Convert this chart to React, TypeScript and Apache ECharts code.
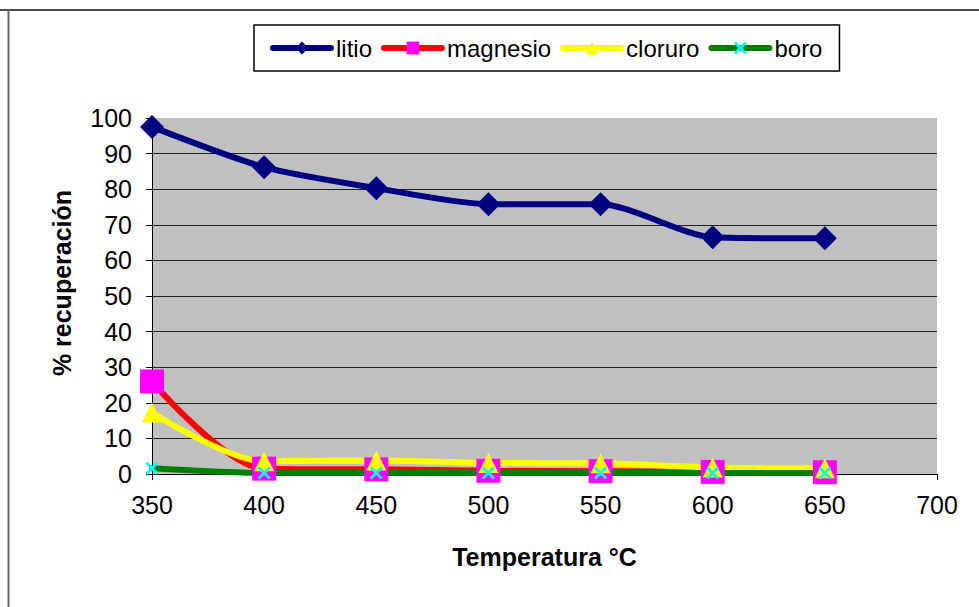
import React, { useEffect, useRef } from "react";
import * as echarts from "echarts";

const temperatures = [350, 400, 450, 500, 550, 600, 650];
const litio = [97.5, 86.2, 80.3, 75.8, 75.8, 66.5, 66.2];
const magnesio = [26, 1.5, 1.3, 0.9, 0.8, 0.6, 0.5];
const cloruro = [17.3, 3.6, 3.8, 3.1, 3.0, 1.8, 1.6];
const boro = [1.6, 0.3, 0.3, 0.3, 0.3, 0.3, 0.3];

const FONT = "'Liberation Sans', Arial, sans-serif";
const CROSS =
  "path://M0,1.5 L1.5,0 L5,3.5 L8.5,0 L10,1.5 L6.5,5 L10,8.5 L8.5,10 L5,6.5 L1.5,10 L0,8.5 L3.5,5 Z";

const pair = (vals: number[]) => temperatures.map((t, i) => [t, vals[i]]);

export default function App() {
  const ref = useRef<HTMLDivElement>(null);
  useEffect(() => {
    if (!ref.current) return;
    const chart = echarts.init(ref.current, null, { renderer: "svg" });
    const gridColors = Array.from({ length: 11 }, (_, i) =>
      i === 10 ? "rgba(0,0,0,0)" : "#222"
    );
    chart.setOption({
      animation: false,
      backgroundColor: "#fff",
      textStyle: { fontFamily: FONT },
      graphic: [
        {
          type: "line",
          shape: { x1: 0, y1: 10, x2: 979, y2: 10 },
          style: { stroke: "#111", lineWidth: 1.5 },
        },
        {
          type: "line",
          shape: { x1: 8.5, y1: 10, x2: 8.5, y2: 607 },
          style: { stroke: "#666", lineWidth: 2 },
        },
      ],
      legend: {
        left: 254,
        top: 25,
        width: 600,
        padding: [11, 17, 11, 16],
        borderColor: "#000",
        borderWidth: 1.5,
        itemWidth: 58,
        itemHeight: 16,
        itemGap: 9,
        lineStyle: { width: 6, cap: "round" },
        textStyle: { fontSize: 24, color: "#000", fontFamily: FONT },
        data: ["litio", "magnesio", "cloruro", "boro"],
      },
      grid: {
        left: 152,
        right: 42,
        top: 118,
        bottom: 133,
        show: true,
        backgroundColor: "#C0C0C0",
        borderWidth: 0,
      },
      xAxis: {
        type: "value",
        min: 350,
        max: 700,
        interval: 50,
        name: "Temperatura °C",
        nameLocation: "middle",
        nameGap: 70,
        nameTextStyle: { fontSize: 25, fontWeight: "bold", color: "#000", fontFamily: FONT },
        axisLine: { show: true, onZero: false, lineStyle: { color: "#000", width: 1 } },
        axisTick: { show: true, inside: false, length: 6, lineStyle: { color: "#000" } },
        axisLabel: { fontSize: 25, color: "#000", margin: 18, fontFamily: FONT },
        splitLine: { show: false },
      },
      yAxis: {
        type: "value",
        min: 0,
        max: 100,
        interval: 10,
        name: "% recuperación",
        nameLocation: "middle",
        nameGap: 78,
        nameTextStyle: {
          fontSize: 25,
          fontWeight: "bold",
          color: "#000",
          fontFamily: FONT,
          padding: [0, 0, 0, 26],
        },
        axisLine: { show: true, lineStyle: { color: "#000", width: 1 } },
        axisTick: { show: true, inside: false, length: 6, lineStyle: { color: "#000" } },
        axisLabel: { fontSize: 25, color: "#000", margin: 20, fontFamily: FONT },
        splitLine: { show: true, lineStyle: { color: gridColors, width: 1 } },
      },
      series: [
        {
          name: "litio",
          type: "line",
          data: pair(litio),
          smooth: 0.25,
          symbol: "diamond",
          symbolSize: [24, 24],
          lineStyle: { color: "#000080", width: 6, cap: "round" },
          itemStyle: { color: "#000080" },
        },
        {
          name: "magnesio",
          type: "line",
          data: pair(magnesio),
          smooth: 0.3,
          symbol: "rect",
          symbolSize: 24,
          lineStyle: { color: "#FF0000", width: 6, cap: "round" },
          itemStyle: { color: "#FF00FF" },
        },
        {
          name: "cloruro",
          type: "line",
          data: pair(cloruro),
          smooth: 0.3,
          symbol: "triangle",
          symbolSize: 20,
          lineStyle: { color: "#FFFF00", width: 6, cap: "round" },
          itemStyle: { color: "#FFFF00" },
        },
        {
          name: "boro",
          type: "line",
          data: pair(boro),
          smooth: 0.3,
          symbol: CROSS,
          symbolSize: 13,
          lineStyle: { color: "#008000", width: 6, cap: "round" },
          itemStyle: { color: "#00FFFF" },
        },
      ],
    });
    return () => chart.dispose();
  }, []);
  return (
    <div
      ref={ref}
      style={{ position: "fixed", left: 0, top: 0, width: 979, height: 607 }}
    />
  );
}
